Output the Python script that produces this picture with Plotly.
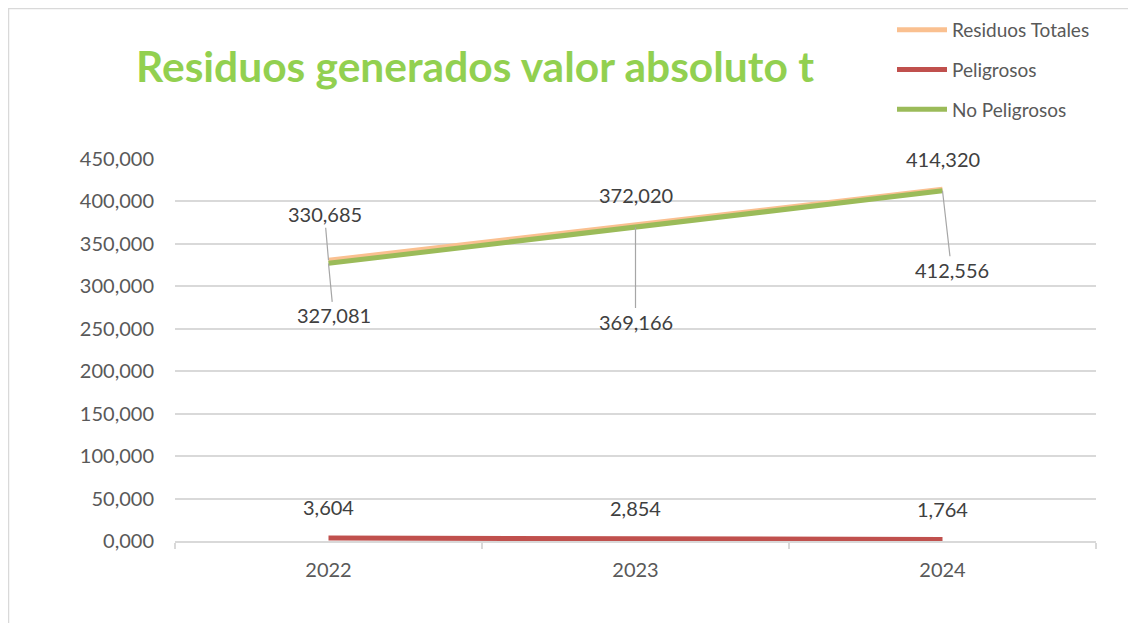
import plotly.graph_objects as go

years = ["2022", "2023", "2024"]
totales = [330.685, 372.020, 414.320]
peligrosos = [3.604, 2.854, 1.764]
no_peligrosos = [327.081, 369.166, 412.556]

FONT = "Lato"
TXT = "#404040"
AX = "#595959"
GRID = "#D9D9D9"

# page body has 8px margin -> figure sized to fit window
W, H = 1128, 615
L, R, T, B = 167, 40, 151, 82
PW, PH = W - L - R, H - T - B

fig = go.Figure()
fig.add_trace(go.Scatter(x=years, y=totales, name="Residuos Totales", mode="lines",
                         line=dict(color="#FAC090", width=5), legendgroup="a"))
fig.add_trace(go.Scatter(x=years, y=peligrosos, name="Peligrosos", mode="lines",
                         line=dict(color="#C0504D", width=5), legendgroup="b"))
fig.add_trace(go.Scatter(x=years, y=no_peligrosos, name="No Peligrosos", mode="lines",
                         line=dict(color="#9BBB59", width=5), legendgroup="c"))

def fmt(v):
    return f"{v:,.3f}".replace(",", "X").replace(".", ",").replace("X", ".")

LBL = dict(family=FONT, size=20, color=TXT)

# Residuos Totales labels
tot_off = [(-4, -46, True), (0, -30, False), (0, -30, False)]
for i, (v, (ax, ay, arrow)) in enumerate(zip(totales, tot_off)):
    if arrow:
        fig.add_annotation(x=i, y=v, text=fmt(v), showarrow=True, arrowhead=0,
                           arrowcolor="#A6A6A6", arrowwidth=1.2, ax=ax, ay=ay, font=LBL)
    else:
        fig.add_annotation(x=i, y=v, text=fmt(v), showarrow=False, yshift=-ay, font=LBL)

# No peligrosos labels
np_off = [(5, 52), (0, 94), (9, 79)]
for i, (v, (ax, ay)) in enumerate(zip(no_peligrosos, np_off)):
    fig.add_annotation(x=i, y=v, text=fmt(v), showarrow=True, arrowhead=0,
                       arrowcolor="#A6A6A6", arrowwidth=1.2, ax=ax, ay=ay, font=LBL)

# Peligrosos labels
for i, v in enumerate(peligrosos):
    fig.add_annotation(x=i, y=v, text=fmt(v), showarrow=False, yshift=31, font=LBL)

fig.add_shape(type="rect", xref="paper", yref="paper",
              x0=(0.5 - L) / PW, x1=(W + 10 - L) / PW,
              y0=-(B + 10) / PH, y1=1 + (T - 0.5) / PH,
              line=dict(color=GRID, width=1.5), layer="below")

fig.update_layout(
    width=W, height=H,
    margin=dict(l=L, r=R, t=T, b=B, autoexpand=False),
    paper_bgcolor="white", plot_bgcolor="white",
    separators=",.",
    font=dict(family=FONT, color=AX, size=20),
    title=dict(text="<b>Residuos generados valor absoluto t</b>",
               x=467 / W, xanchor="center", xref="container",
               y=1 - 59 / H, yanchor="middle", yref="container",
               font=dict(family=FONT, size=42.5, color="#92D050")),
    showlegend=True,
    legend=dict(x=884 / W, xanchor="left", xref="container",
                y=1 - 3 / H, yanchor="top", yref="container",
                font=dict(family=FONT, size=19, color=AX), bgcolor="rgba(0,0,0,0)",
                tracegroupgap=12, traceorder="grouped", itemwidth=50),
    xaxis=dict(type="category", range=[-0.5, 2.5], showgrid=False,
               showline=True, linecolor=GRID, linewidth=1.5,
               ticks="outside", ticklen=6, tickcolor=GRID, tickwidth=1.5,
               tickson="boundaries", ticklabelstandoff=10,
               tickfont=dict(family=FONT, size=20, color=AX)),
    yaxis=dict(range=[0, 450], dtick=50, tick0=0, tickformat=",.3f",
               showgrid=True, gridcolor=GRID, gridwidth=1.5,
               zeroline=False, showline=False, ticks="",
               ticklabelstandoff=20,
               tickfont=dict(family=FONT, size=20, color=AX)),
)

fig.write_html("out.html")
